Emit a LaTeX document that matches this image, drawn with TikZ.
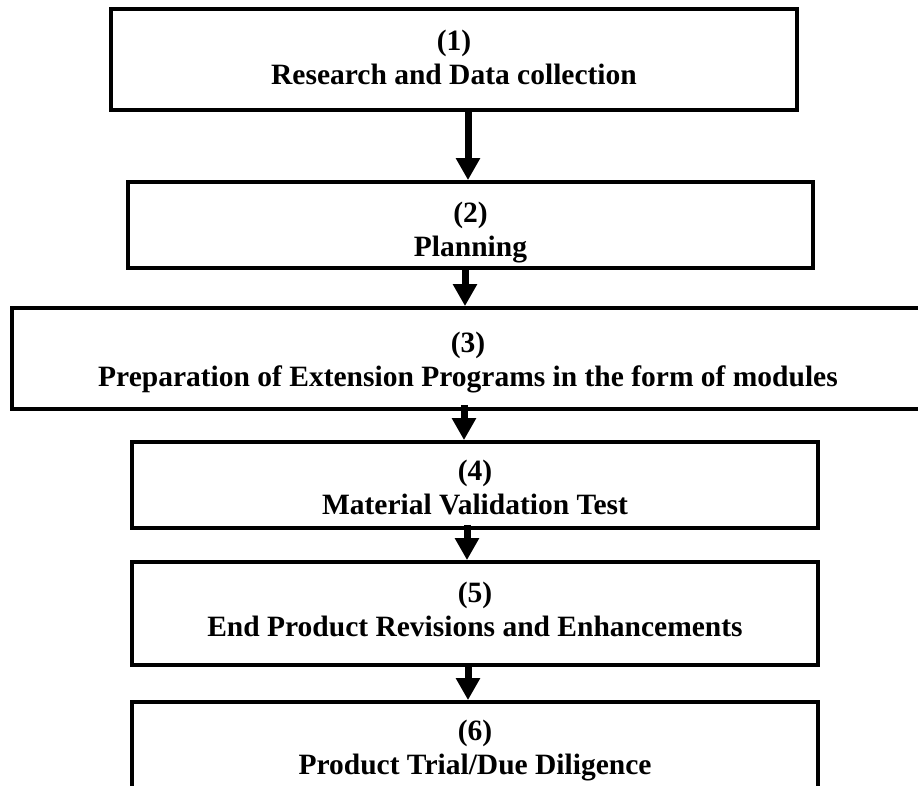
\documentclass[tikz,border=0pt]{standalone}
\usepackage{fontspec}
\setmainfont{Liberation Serif}
\usetikzlibrary{arrows.meta}
\tikzset{
  stage/.style={draw=black, line width=3.8pt, align=center, inner sep=0pt,
    text depth=0pt, font=\fontsize{29.5}{34}\selectfont\bfseries},
  flow/.style={line width=7pt, -{Triangle[length=22pt 0 0, width=23pt 0 0]}},
}

\begin{document}
\begin{tikzpicture}[x=1pt, y=-1pt]
  \useasboundingbox (0,0) rectangle (918,785);
  \clip (0,0) rectangle (918,785);

  % the six stages
  \node[stage, minimum width=686pt, minimum height=101pt, text height=50.4pt] (s1) at (454,59.5) {(1)\\Research and Data collection};
  \node[stage, minimum width=685pt, minimum height=86pt, text height=63.4pt] (s2) at (470.5,225) {(2)\\Planning};
  \node[stage, minimum width=912pt, minimum height=101pt, text height=56.4pt] (s3) at (468,358.5) {(3)\\Preparation of Extension Programs in the form of modules};
  \node[stage, minimum width=686pt, minimum height=86pt, text height=59.4pt] (s4) at (475,485) {(4)\\Material Validation Test};
  \node[stage, minimum width=686pt, minimum height=103pt, text height=46.4pt] (s5) at (475,613.5) {(5)\\End Product Revisions and Enhancements};
  \node[stage, minimum width=686pt, minimum height=93pt, text height=52.4pt] (s6) at (475,748.5) {(6)\\Product Trial/Due Diligence};

  % arrows between stages
  \draw[flow] ([xshift=14pt]s1.south) -- ([xshift=-2.5pt]s2.north);
  \draw[flow] ([xshift=-5.5pt]s2.south) -- ([xshift=-3pt]s3.north);
  \draw[flow, shorten <=-6pt] ([xshift=-4pt]s3.south) -- ([xshift=-11pt]s4.north);
  \draw[flow, shorten <=-5pt] ([xshift=-8pt]s4.south) -- ([xshift=-8pt]s5.north);
  \draw[flow] ([xshift=-7pt]s5.south) -- ([xshift=-7pt]s6.north);
\end{tikzpicture}
\end{document}
